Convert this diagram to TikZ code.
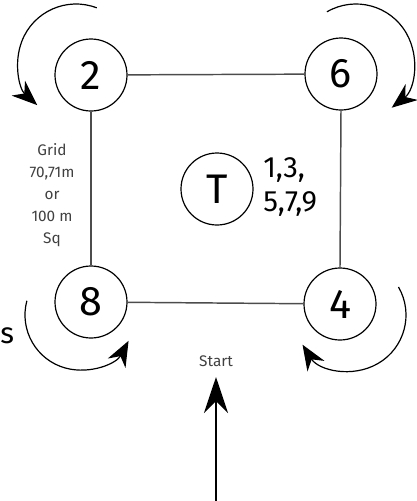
\documentclass[tikz,border=0pt]{standalone}
\usepackage{fontspec}
\setmainfont{Fira Sans}
\usetikzlibrary{arrows.meta}
\begin{document}
\begin{tikzpicture}[x=0.75pt,y=-0.75pt,
  corner/.style={draw=black,circle,line width=0.9pt,minimum size=54pt,inner sep=0pt,font=\fontsize{31}{31}\selectfont},
  gridline/.style={draw=black!70,line width=1.1pt},
  turn/.style={draw=black,line width=0.9pt,-{Stealth[length=19pt,width=15pt,inset=6pt]}},
  note/.style={text=black!75,font=\fontsize{11.5}{16.5}\selectfont,align=center},
  big/.style={font=\fontsize{22}{25}\selectfont,align=left}]
\useasboundingbox (0,0) rectangle (417,501);
\node[corner] (n2) at (91,75) {2};
\node[corner] (n6) at (341,74) {6};
\node[corner] (n8) at (91,302) {8};
\node[corner] (n4) at (340,304) {4};
\node[corner] (nT) at (217,189) {T};
\node[big,anchor=west,inner sep=0pt] (lst) at (263,187) {1,3,\\5,7,9};
\node[note] (grid) at (52,195) {Grid\\70,71m\\or\\100 m\\Sq};
\node[note] (start) at (216,361) {Start};
\node[big,anchor=west,inner sep=0pt] (s) at (0,336) {s};
\draw[gridline] (n2) -- (n6);
\draw[gridline] (n2) -- (n8);
\draw[gridline] (n6.south) -- (n4.north);
\draw[gridline] (n8) -- (n4);
\coordinate (c2) at (76,62);
\coordinate (c6) at (356,62);
\coordinate (c8) at (80,315);
\coordinate (c4) at (350,315);
\draw[turn] ([shift={(69:43.5pt)}]c2) arc[start angle=69,end angle=228,radius=43.5pt];
\draw[turn] ([shift={(120:43.5pt)}]c6) arc[start angle=120,end angle=-52,radius=43.5pt];
\draw[turn] ([shift={(165:41.25pt)}]c8) arc[start angle=165,end angle=332,radius=41.25pt];
\draw[turn] ([shift={(30:42pt)}]c4) arc[start angle=30,end angle=-148,radius=42pt];
\coordinate (sbot) at (216,501);
\coordinate (stip) at (216,377);
\draw[line width=1.1pt,-{Stealth[length=27pt,width=18pt,inset=9pt]}] (sbot) -- (stip);
\end{tikzpicture}
\end{document}
